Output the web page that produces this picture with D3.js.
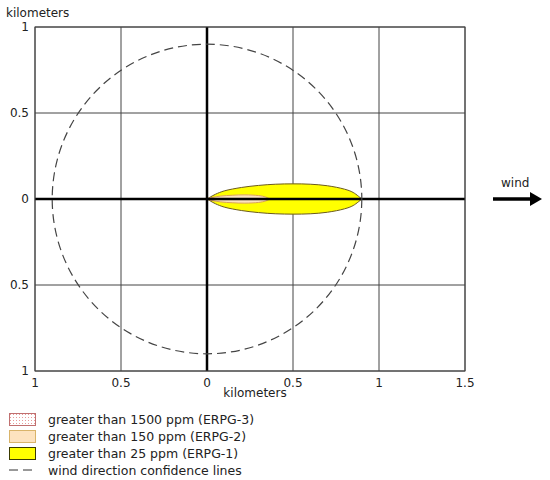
<!DOCTYPE html>
<html>
<head>
<meta charset="utf-8">
<script src="https://cdn.jsdelivr.net/npm/d3@7"></script>
<style>
  body { margin: 0; background: #fff; }
  text { font-family: "DejaVu Sans", Verdana, sans-serif; font-size: 12px; fill: #222; }
  .legend text { font-size: 12.5px; }
</style>
</head>
<body>
<div id="content"></div>
<script>
// Axis ticks (km)
var xTicks = [-1, -0.5, 0, 0.5, 1, 1.5];
var yTicks = [-1, -0.5, 0, 0.5, 1];

// Plume footprints: downwind distance (km) and half-width (km)
var erpg1Dist = [0, 0.02, 0.05, 0.1, 0.2, 0.3, 0.4, 0.5, 0.6, 0.7, 0.8, 0.85, 0.9];
var erpg1Half = [0, 0.012, 0.028, 0.047, 0.067, 0.079, 0.086, 0.088, 0.086, 0.077, 0.057, 0.038, 0];
var erpg2Dist = [0, 0.03, 0.08, 0.15, 0.22, 0.3, 0.34, 0.365];
var erpg2Half = [0, 0.009, 0.017, 0.022, 0.024, 0.02, 0.012, 0];
var erpg3Dist = [0, 0.02, 0.04, 0.055];
var erpg3Half = [0, 0.005, 0.004, 0];

// Wind direction confidence circle radius (km)
var confidenceRadius = 0.9;

var legendLabels = [
    "greater than 1500 ppm (ERPG-3)",
    "greater than 150 ppm (ERPG-2)",
    "greater than 25 ppm (ERPG-1)",
    "wind direction confidence lines"
];

var svgWidth = 550, svgHeight = 480;
var margin = { left: 35, top: 27, right: 85, bottom: 109 };
var plotWidth = svgWidth - margin.left - margin.right;   // 430
var plotHeight = svgHeight - margin.top - margin.bottom; // 344

var xScale = d3.scaleLinear().domain([-1, 1.5]).range([0, plotWidth]);
var yScale = d3.scaleLinear().domain([-1, 1]).range([plotHeight, 0]);

var svg = d3.select("#content").append("svg")
    .attr("width", svgWidth)
    .attr("height", svgHeight);

var defs = svg.append("defs");
var pat = defs.append("pattern")
    .attr("id", "dots")
    .attr("width", 3).attr("height", 3)
    .attr("patternUnits", "userSpaceOnUse");
pat.append("rect").attr("width", 3).attr("height", 3).attr("fill", "#fff");
pat.append("rect").attr("x", 1).attr("y", 1).attr("width", 1).attr("height", 1).attr("fill", "#e89a9a");

var chart = svg.append("g")
    .attr("transform", "translate(" + margin.left + "," + margin.top + ")");

// Grid lines
chart.selectAll(".vgrid")
    .data(xTicks.filter(function (d) { return d !== 0; }))
    .enter().append("line")
    .attr("x1", function (d) { return xScale(d); })
    .attr("x2", function (d) { return xScale(d); })
    .attr("y1", 0).attr("y2", plotHeight)
    .attr("stroke", "#444").attr("stroke-width", 1);

chart.selectAll(".hgrid")
    .data(yTicks.filter(function (d) { return d !== 0; }))
    .enter().append("line")
    .attr("y1", function (d) { return yScale(d); })
    .attr("y2", function (d) { return yScale(d); })
    .attr("x1", 0).attr("x2", plotWidth)
    .attr("stroke", "#444").attr("stroke-width", 1);

// Plume areas
function plumeData(dist, half) {
    return dist.map(function (d, i) { return { d: d, h: half[i] }; });
}
var area = d3.area()
    .x(function (p) { return xScale(p.d); })
    .y0(function (p) { return yScale(-p.h); })
    .y1(function (p) { return yScale(p.h); })
    .curve(d3.curveCatmullRom);

chart.append("path")
    .datum(plumeData(erpg1Dist, erpg1Half))
    .attr("d", area)
    .attr("fill", "#ffff00")
    .attr("stroke", "#6b5a1e").attr("stroke-width", 1);

chart.append("path")
    .datum(plumeData(erpg2Dist, erpg2Half))
    .attr("d", area)
    .attr("fill", "#fde3bf")
    .attr("stroke", "#d9a35a").attr("stroke-width", 1);

chart.append("path")
    .datum(plumeData(erpg3Dist, erpg3Half))
    .attr("d", area)
    .attr("fill", "url(#dots)")
    .attr("stroke", "#c07070").attr("stroke-width", 1);

// Main axes through origin
chart.append("line")
    .attr("x1", xScale(0)).attr("x2", xScale(0))
    .attr("y1", 0).attr("y2", plotHeight)
    .attr("stroke", "#000").attr("stroke-width", 2.5);
chart.append("line")
    .attr("x1", 0).attr("x2", plotWidth)
    .attr("y1", yScale(0)).attr("y2", yScale(0))
    .attr("stroke", "#000").attr("stroke-width", 2.5);

// Confidence circle
chart.append("ellipse")
    .attr("cx", xScale(0)).attr("cy", yScale(0))
    .attr("rx", xScale(confidenceRadius) - xScale(0))
    .attr("ry", yScale(0) - yScale(confidenceRadius))
    .attr("fill", "none")
    .attr("stroke", "#444").attr("stroke-width", 1.2)
    .attr("stroke-dasharray", "9,5");

// Frame
chart.append("rect")
    .attr("width", plotWidth).attr("height", plotHeight)
    .attr("fill", "none").attr("stroke", "#444").attr("stroke-width", 1);

// Tick labels (absolute distances)
chart.selectAll(".xlab")
    .data(xTicks)
    .enter().append("text")
    .attr("x", function (d) { return xScale(d); })
    .attr("y", plotHeight + 16)
    .attr("text-anchor", "middle")
    .text(function (d) { return Math.abs(d); });

chart.selectAll(".ylab")
    .data(yTicks)
    .enter().append("text")
    .attr("x", -6)
    .attr("y", function (d) { return yScale(d) + 4; })
    .attr("text-anchor", "end")
    .text(function (d) { return Math.abs(d); });

svg.append("text").attr("x", 6).attr("y", 17).text("kilometers");
svg.append("text").attr("x", 255).attr("y", 397).attr("text-anchor", "middle").text("kilometers");

// Wind arrow
var windY = margin.top + yScale(0);
svg.append("line")
    .attr("x1", 493).attr("x2", 532)
    .attr("y1", windY).attr("y2", windY)
    .attr("stroke", "#000").attr("stroke-width", 3.5);
svg.append("path")
    .attr("d", "M530," + (windY - 7) + " L542," + windY + " L530," + (windY + 7) + " Z")
    .attr("fill", "#000");
svg.append("text").attr("x", 501).attr("y", windY - 12).text("wind");

// Legend
var legend = svg.append("g").attr("class", "legend").attr("transform", "translate(9,413)");
var boxStyles = [
    { fill: "url(#dots)", stroke: "#c07070" },
    { fill: "#fde3bf", stroke: "#d9b46a" },
    { fill: "#ffff00", stroke: "#3a3a00" }
];
legendLabels.forEach(function (label, i) {
    var row = legend.append("g").attr("transform", "translate(0," + (i * 17) + ")");
    if (i < 3) {
        row.append("rect")
            .attr("x", 0.5).attr("y", 0.5)
            .attr("width", 26).attr("height", 12)
            .attr("fill", boxStyles[i].fill)
            .attr("stroke", boxStyles[i].stroke).attr("stroke-width", 1);
    } else {
        row.append("line")
            .attr("x1", 0).attr("x2", 27)
            .attr("y1", 6).attr("y2", 6)
            .attr("stroke", "#333").attr("stroke-width", 1)
            .attr("stroke-dasharray", "9,5");
    }
    row.append("text").attr("x", 39).attr("y", 11).text(label);
});
</script>
</body>
</html>
